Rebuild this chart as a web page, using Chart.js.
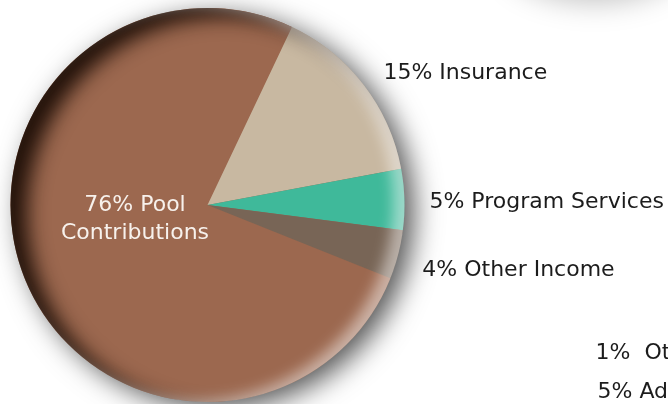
<!DOCTYPE html>
<html>
<head>
<meta charset="utf-8">
<script src="https://cdn.jsdelivr.net/npm/chart.js@4/dist/chart.umd.min.js"></script>
<style>
  html, body { margin: 0; padding: 0; background: #ffffff; }
  #wrap { width: 668px; height: 404px; position: relative; }
</style>
</head>
<body>
<div id="wrap"><canvas id="c" width="668" height="404"></canvas></div>
<script>
// ---- data ----
const categories = ['Pool Contributions', 'Insurance', 'Program Services', 'Other Income'];
const shares = [76, 15, 5, 4];
const sliceColors = ['#9c684f', '#c8b8a1', '#3fb99a', '#786556'];
// text from a neighbouring chart, cut off at the right edge of the picture
const croppedLabels = ['1%  Ot', '5% Ad'];

const FONT = '"DejaVu Sans", "Open Sans", sans-serif';

const piePlugin = {
  id: 'pieDecor',
  beforeDraw(chart) {
    const ctx = chart.ctx;
    // faint shadow of another pie just above the top-right corner
    ctx.save();
    ctx.shadowColor = 'rgba(0,0,0,0.26)';
    ctx.shadowBlur = 30;
    ctx.shadowOffsetX = 10000;
    ctx.shadowOffsetY = 0;
    ctx.beginPath();
    ctx.ellipse(595 - 10000, -44, 90, 45, 0, 0, Math.PI * 2);
    ctx.fillStyle = '#000';
    ctx.fill();
    ctx.restore();
  },
  beforeDatasetsDraw(chart) {
    const arc = chart.getDatasetMeta(0).data[0];
    const ctx = chart.ctx;
    ctx.save();
    ctx.shadowColor = 'rgba(0,0,0,0.68)';
    ctx.shadowBlur = 28;
    ctx.shadowOffsetX = 10;
    ctx.shadowOffsetY = 7;
    ctx.beginPath();
    ctx.arc(arc.x, arc.y, arc.outerRadius - 1, 0, Math.PI * 2);
    ctx.fillStyle = sliceColors[0];
    ctx.fill();
    ctx.restore();
  },
  afterDatasetsDraw(chart, args, opts) {
    const meta = chart.getDatasetMeta(0);
    const arc0 = meta.data[0];
    const cx = arc0.x, cy = arc0.y, r = arc0.outerRadius;
    const ctx = chart.ctx;

    // inset rim shading: dark on the left, light on the right
    const inset = (shiftX, shiftY, color, blur) => {
      ctx.save();
      ctx.beginPath();
      ctx.arc(cx, cy, r, 0, Math.PI * 2);
      ctx.clip();
      ctx.shadowColor = color;
      ctx.shadowBlur = blur;
      ctx.shadowOffsetX = 10000;
      ctx.shadowOffsetY = 0;
      ctx.beginPath();
      ctx.rect(-3000 - 10000, -3000, 7000, 7000);
      ctx.arc(cx + shiftX - 10000, cy + shiftY, r, 0, Math.PI * 2, true);
      ctx.fillStyle = '#000';
      ctx.fill();
      ctx.restore();
    };
    inset(17, 9, 'rgba(28,14,6,0.95)', 20);
    inset(-11, -2, 'rgba(255,255,255,0.5)', 14);

    // labels
    ctx.save();
    ctx.font = '22px ' + FONT;
    ctx.textBaseline = 'middle';
    meta.data.forEach((a, i) => {
      if (i === 0) {
        const words = categories[0].split(' ');
        const lines = [shares[0] + '% ' + words[0], words.slice(1).join(' ')];
        ctx.fillStyle = '#f7f1ec';
        ctx.textAlign = 'center';
        const lx = cx + opts.innerOffset.x * r;
        const ly = cy + opts.innerOffset.y * r;
        lines.forEach((t, k) => ctx.fillText(t, lx, ly + k * 28));
        return;
      }
      const mid = (a.startAngle + a.endAngle) / 2;
      const d = r + opts.labelGap;
      const x = cx + d * Math.cos(mid);
      const y = cy + d * Math.sin(mid) + opts.nudge[i];
      ctx.fillStyle = '#1c1c1c';
      ctx.textAlign = 'left';
      ctx.fillText(shares[i] + '% ' + categories[i], x, y);
    });
    ctx.fillStyle = '#1c1c1c';
    ctx.textAlign = 'left';
    ctx.fillText(croppedLabels[0], cx + 1.97 * r, cy + 148);
    ctx.fillText(croppedLabels[1], cx + 1.98 * r, cy + 187);
    ctx.restore();
  }
};

new Chart(document.getElementById('c'), {
  type: 'pie',
  data: {
    labels: categories,
    datasets: [{
      data: shares,
      backgroundColor: sliceColors,
      borderWidth: 0
    }]
  },
  options: {
    responsive: false,
    animation: false,
    rotation: 111.8,
    layout: { padding: { left: 10, right: 263, top: 8, bottom: 2 } },
    plugins: {
      legend: { display: false },
      tooltip: { enabled: false },
      pieDecor: { innerOffset: { x: -0.368, y: 0 }, labelGap: 25, nudge: [0, 4, 3, 9] }
    }
  },
  plugins: [piePlugin]
});
</script>
</body>
</html>
